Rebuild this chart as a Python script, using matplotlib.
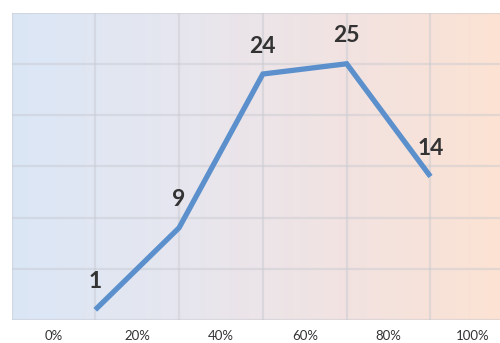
import numpy as np
import matplotlib
matplotlib.use("Agg")
import matplotlib.pyplot as plt
from matplotlib.colors import LinearSegmentedColormap

# Data
positions = [1, 2, 3, 4, 5]
values = [1, 9, 24, 25, 14]
tick_labels = ["0%", "20%", "40%", "60%", "80%", "100%"]

plt.rcParams["font.family"] = ["Lato", "DejaVu Sans"]

fig = plt.figure(figsize=(5.0, 3.43), dpi=100)
fig.patch.set_facecolor("white")
ax = fig.add_axes([0.023, 0.067, 0.977, 0.8965])

xmax = 5.83
ymin, ymax = 0, 30

# Horizontal blue-to-peach background gradient
grad = np.linspace(0, 1, 256).reshape(1, -1)
cmap = LinearSegmentedColormap.from_list(
    "bg", ["#dbe7f6", "#e6e6ef", "#f1e3e2", "#fce2d3"])
ax.imshow(grad, cmap=cmap, aspect="auto", extent=(0, xmax, ymin, ymax),
          zorder=0, interpolation="bicubic")

ax.set_xlim(0, xmax)
ax.set_ylim(ymin, ymax)

# Grid: vertical lines at the data positions, horizontal every 5 units
ax.set_xticks([i + 0.5 for i in range(len(tick_labels))])
ax.set_xticklabels(tick_labels, fontsize=9.5, color="#333333")
ax.set_xticks(range(0, 6), minor=True)
ax.set_yticks(np.arange(0, 31, 5))
ax.set_yticklabels([])
ax.tick_params(axis="both", which="both", length=0)
ax.tick_params(axis="x", pad=7)
ax.grid(True, axis="x", which="minor", color="#c6c9cf", alpha=0.45, linewidth=1.6)
ax.grid(True, axis="y", which="major", color="#c6c9cf", alpha=0.45, linewidth=1.6)
ax.grid(False, axis="x", which="major")
for s in ax.spines.values():
    s.set_visible(False)

# Series line
ax.plot(positions, values, color="#5b90cc", linewidth=3.8,
        solid_joinstyle="miter", solid_capstyle="butt", zorder=3)

# Value labels above each point
for x, v in zip(positions, values):
    ax.annotate(str(v), (x, v), xytext=(0, 20), textcoords="offset points",
                ha="center", va="center", fontsize=16.5, fontweight="bold",
                color="#333333", zorder=4)

fig.savefig("out.png", dpi=100, facecolor="white")
